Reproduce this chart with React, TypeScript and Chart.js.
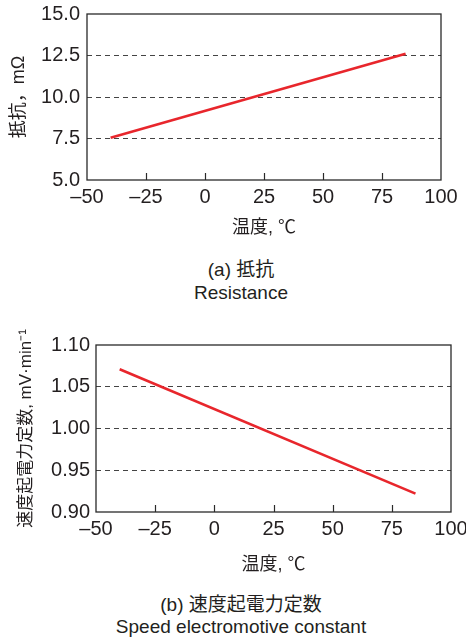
import React, { useEffect, useRef } from 'react';
import { Chart, registerables } from 'chart.js';

Chart.register(...registerables);

// ---- data ----
const temps = [-40, 85];
const resistance = [7.55, 12.6];
const emfConstant = [1.071, 0.922];
const xTicks = [-50, -25, 0, 25, 50, 75, 100];
const resTicks = [5, 7.5, 10, 12.5, 15];
const emfTicks = [0.9, 0.95, 1.0, 1.05, 1.1];

const FONT = '"Liberation Sans", "Noto Sans CJK JP", Arial, sans-serif';
const TEXT = '#231f20';
const RED = '#e8262c';

type Props = {
  top: number;
  height: number;
  values: number[];
  yTicks: number[];
  decimals: number;
  yTitle: string;
  yTitleSize: number;
  yTitlePad: number;
  yWidth: number;
  yPad: number;
  padTop: number;
  padRight: number;
  xHeight: number;
  xTitlePad: number;
};

const fmtX = (v: number) => (v < 0 ? '\u2013' + Math.abs(v) : String(v));

const framePlugin = {
  id: 'frameTicks',
  afterDraw(chart: any) {
    const { ctx, chartArea: a, scales } = chart;
    ctx.save();
    ctx.strokeStyle = '#2a2a2a';
    ctx.lineWidth = 1.3;
    ctx.strokeRect(a.left, a.top, a.right - a.left, a.bottom - a.top);
    ctx.lineWidth = 1.2;
    xTicks.slice(1, -1).forEach((v) => {
      const px = Math.round(scales.x.getPixelForValue(v)) + 0.5;
      ctx.beginPath();
      ctx.moveTo(px, a.bottom);
      ctx.lineTo(px, a.bottom - 7);
      ctx.stroke();
    });
    ctx.restore();
  },
};

function LineChart(p: Props) {
  const ref = useRef<HTMLCanvasElement>(null);
  useEffect(() => {
    if (!ref.current) return;
    const yMin = p.yTicks[0];
    const yMax = p.yTicks[p.yTicks.length - 1];
    const chart = new Chart(ref.current, {
      type: 'line',
      data: {
        datasets: [
          {
            data: temps.map((t, i) => ({ x: t, y: p.values[i] })),
            borderColor: RED,
            borderWidth: 2.6,
            pointRadius: 0,
            fill: false,
            tension: 0,
          },
        ],
      },
      options: {
        responsive: false,
        animation: false,
        layout: { padding: { top: p.padTop, right: p.padRight, left: 0, bottom: 0 } },
        plugins: { legend: { display: false }, tooltip: { enabled: false } },
        scales: {
          x: {
            type: 'linear',
            min: xTicks[0],
            max: xTicks[xTicks.length - 1],
            afterBuildTicks: (s: any) => {
              s.ticks = xTicks.map((v) => ({ value: v }));
            },
            afterFit: (s: any) => {
              s.height = p.xHeight;
              s.paddingLeft = 0;
              s.paddingRight = 0;
            },
            grid: { display: false, drawTicks: false },
            border: { display: false },
            ticks: {
              color: TEXT,
              font: { family: FONT, size: 20 },
              padding: 5,
              maxRotation: 0,
              autoSkip: false,
              callback: (v: any) => fmtX(Number(v)),
            },
            title: {
              display: true,
              text: '温度, ℃',
              color: TEXT,
              font: { family: FONT, size: 18 },
              padding: { top: 0, bottom: p.xTitlePad },
            },
          },
          y: {
            type: 'linear',
            min: yMin,
            max: yMax,
            afterBuildTicks: (s: any) => {
              s.ticks = p.yTicks.map((v) => ({ value: v }));
            },
            afterFit: (s: any) => {
              s.width = p.yWidth;
              s.paddingTop = 0;
              s.paddingBottom = 0;
            },
            grid: {
              drawTicks: false,
              lineWidth: 1,
              color: (c: any) => {
                const v = c.tick ? c.tick.value : 0;
                return Math.abs(v - yMin) < 1e-6 || Math.abs(v - yMax) < 1e-6
                  ? 'rgba(0,0,0,0)'
                  : '#444';
              },
            },
            border: { display: false, dash: [5, 4] },
            ticks: {
              color: TEXT,
              font: { family: FONT, size: 20 },
              padding: p.yPad,
              autoSkip: false,
              callback: (v: any) => Number(v).toFixed(p.decimals),
            },
            title: {
              display: true,
              text: p.yTitle,
              color: TEXT,
              font: { family: FONT, size: p.yTitleSize },
              padding: { top: p.yTitlePad, bottom: 0 },
            },
          },
        },
      },
      plugins: [framePlugin],
    } as any);
    return () => chart.destroy();
  }, []);
  return (
    <canvas
      ref={ref}
      width={466}
      height={p.height}
      style={{ position: 'absolute', left: 0, top: p.top, width: 466, height: p.height }}
    />
  );
}

const captionStyle = (top: number, lh: number): React.CSSProperties => ({
  position: 'absolute',
  left: 0,
  top,
  width: 482,
  textAlign: 'center',
  fontFamily: FONT,
  fontSize: 19,
  lineHeight: lh + 'px',
  color: TEXT,
});

export default function App() {
  return (
    <div
      style={{
        position: 'absolute',
        left: 0,
        top: 0,
        width: 466,
        height: 641,
        background: '#fff',
        overflow: 'hidden',
      }}
    >
      <LineChart
        top={0}
        height={250}
        values={resistance}
        yTicks={resTicks}
        decimals={1}
        yTitle="抵抗，mΩ"
        yTitleSize={18}
        yTitlePad={8}
        yWidth={87}
        yPad={7}
        padTop={14}
        padRight={25}
        xHeight={70}
        xTitlePad={11}
      />
      <div style={captionStyle(258, 23)}>
        (a) 抵抗
        <br />
        Resistance
      </div>
      <LineChart
        top={320}
        height={260}
        values={emfConstant}
        yTicks={emfTicks}
        decimals={2}
        yTitle="速度起電力定数, mV·min⁻¹"
        yTitleSize={17}
        yTitlePad={16.5}
        yWidth={96}
        yPad={6}
        padTop={25}
        padRight={15}
        xHeight={68}
        xTitlePad={4}
      />
      <div style={captionStyle(594, 22)}>
        (b) 速度起電力定数
        <br />
        Speed electromotive constant
      </div>
    </div>
  );
}
